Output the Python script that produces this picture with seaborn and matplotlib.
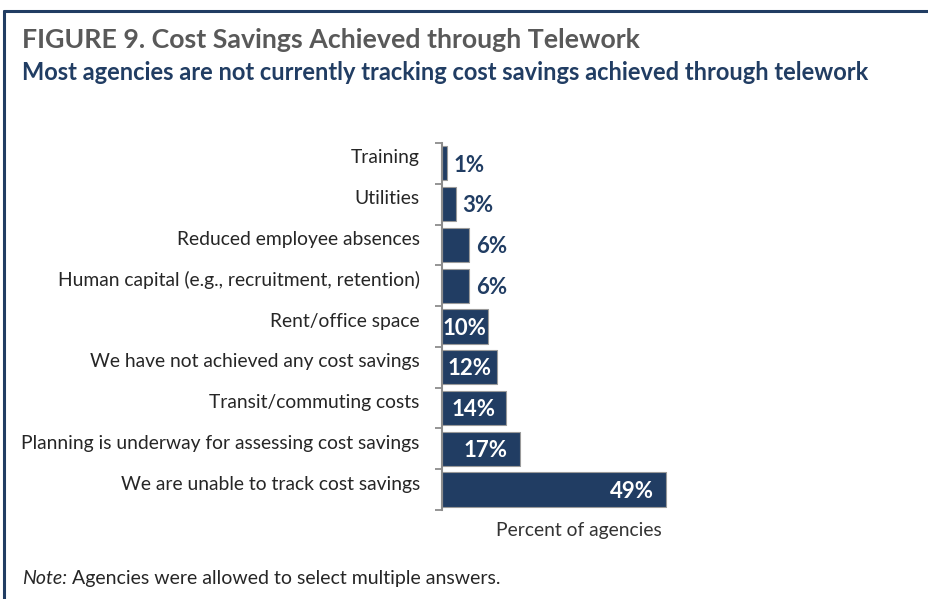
import matplotlib
matplotlib.use("Agg")
import matplotlib.pyplot as plt
import matplotlib.transforms as mtransforms
import seaborn as sns
import pandas as pd
from matplotlib.lines import Line2D

categories = [
    "Training",
    "Utilities",
    "Reduced employee absences",
    "Human capital (e.g., recruitment, retention)",
    "Rent/office space",
    "We have not achieved any cost savings",
    "Transit/commuting costs",
    "Planning is underway for assessing cost savings",
    "We are unable to track cost savings",
]
percents = [1, 3, 6, 6, 10, 12, 14, 17, 49]

title = "FIGURE 9. Cost Savings Achieved through Telework"
subtitle = "Most agencies are not currently tracking cost savings achieved through telework"
x_label = "Percent of agencies"
note_lead = "Note:"
note_text = " Agencies were allowed to select multiple answers."

NAVY = "#213d63"
GREY_TITLE = "#595959"
FONT = "Lato"

sns.set_theme(style="white")
plt.rcParams["font.family"] = [FONT, "DejaVu Sans"]

df = pd.DataFrame({"category": categories, "percent": percents})

fig = plt.figure(figsize=(9.29, 5.99), dpi=100)
ax = fig.add_axes([0.4758, 0.1486, 0.2949, 0.6127])

sns.barplot(data=df, y="category", x="percent", order=categories,
            color=NAVY, saturation=1, width=0.84, edgecolor="#9a9a9a",
            linewidth=0.8, ax=ax)

ax.set_xlim(0, 60)
ax.set_ylim(len(categories) - 0.5, -0.5)
ax.set_xticks([])
ax.set_xlabel(x_label, fontsize=13.9, color="#333333", labelpad=9)
ax.set_ylabel("")

# category tick labels sit between boundary tick marks
ax.set_yticks(range(len(categories)))
ax.set_yticklabels(categories, fontsize=13.9, color="#262626")
ax.tick_params(axis="y", which="major", left=False, length=0, pad=16)
lift = mtransforms.ScaledTranslation(0, 5 / 72, fig.dpi_scale_trans)
for lbl in ax.get_yticklabels():
    lbl.set_transform(lbl.get_transform() + lift)
ax.set_yticks([i - 0.5 for i in range(len(categories) + 1)], minor=True)
ax.tick_params(axis="y", which="minor", left=True, length=5, width=1.3,
               color="#8c8c8c", direction="out")

for side in ["top", "right", "bottom"]:
    ax.spines[side].set_visible(False)
ax.spines["left"].set_color("#8c8c8c")
ax.spines["left"].set_linewidth(1.5)

for i, v in enumerate(percents):
    label = f"{v}%"
    if v < 10:
        ax.text(v + 1.5, i + 0.04, label, ha="left", va="center", fontsize=16,
                fontweight="bold", color=NAVY)
    else:
        ax.text(max(v - 7.5, v / 2), i + 0.04, label, ha="center", va="center",
                fontsize=16, fontweight="bold", color="white")

fig.text(0.0237, 0.933, title, fontsize=19.3, fontweight="bold",
         color=GREY_TITLE, va="center")
fig.text(0.0237, 0.879, subtitle, fontsize=17, fontweight="bold",
         color=NAVY, va="center")

t = fig.text(0.0237, 0.035, note_lead, fontsize=14, style="italic",
             color="#262626", va="center")
fig.canvas.draw()
bb = t.get_window_extent()
fig.text(bb.x1 / fig.bbox.width, 0.035, note_text, fontsize=14,
         color="#262626", va="center")

# frame lines along the top and left edges
fig.add_artist(Line2D([0.0043, 1.0], [0.981, 0.981], transform=fig.transFigure,
                      color=NAVY, linewidth=2.2))
fig.add_artist(Line2D([0.0043, 0.0043], [0.0, 0.981], transform=fig.transFigure,
                      color=NAVY, linewidth=2.2))

fig.savefig("out.png", dpi=100)
